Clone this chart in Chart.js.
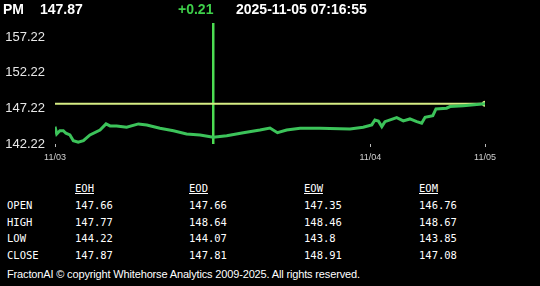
<!DOCTYPE html>
<html>
<head>
<meta charset="utf-8">
<script src="https://cdn.jsdelivr.net/npm/chart.js@4"></script>
<style>
  body { margin: 0; background: #000; width: 540px; height: 286px; overflow: hidden; position: relative; font-family: "Liberation Sans", Arial, sans-serif; color: #fff; }
  .hdr { position: absolute; top: 1px; font-size: 14px; font-weight: bold; line-height: 16px; }
  #chartBox { position: absolute; left: 0; top: 0; width: 540px; height: 170px; }
  .cell { position: absolute; font-family: "DejaVu Sans Mono", monospace; font-size: 10.5px; color: #fff; line-height: 12px; }
  .colHead { text-decoration: underline; }
  #footer { position: absolute; left: 7px; top: 268px; font-size: 11px; color: #fff; letter-spacing: -0.15px; }
</style>
</head>
<body>
<div id="chartBox"><canvas id="priceChart"></canvas></div>
<div class="hdr" style="left:3px" id="symbol"></div>
<div class="hdr" style="left:40px" id="lastPrice"></div>
<div class="hdr" style="left:178px;color:#3ecf4a" id="change"></div>
<div class="hdr" style="left:236px" id="stamp"></div>
<div id="table"></div>
<div id="footer">FractonAI © copyright Whitehorse Analytics 2009-2025. All rights reserved.</div>

<script>
// header values
const symbol = "PM"
const lastPrice = 147.87
const priceChange = "+0.21"
const timeStamp = "2025-11-05 07:16:55"

// price series (sample index, price)
const sampleIndex = [0,0.6,1.7,2.9,3.8,5.2,6.4,8.1,9.9,12.2,15.7,17.8,19.2,21.5,25,29.1,32,36.6,41.3,45.9,50.6,55.2,59.9,65.7,71.5,75,77.6,80.8,85.5,92.4,102.9,107.5,110.5,111.6,112.8,114,115.1,119.2,121.5,123.8,126.2,127.9,129.1,131.8,132.9,136.6,137.8,142.4,150]
const prices = [144.66,143.63,144.09,144.09,143.73,143.49,142.68,142.46,142.69,143.49,144.19,145.04,144.76,144.76,144.57,145.04,144.9,144.43,144.09,143.63,143.49,143.16,143.39,143.81,144.19,144.47,143.81,144.19,144.43,144.43,144.33,144.57,144.9,145.6,145.46,144.66,145.36,145.92,145.46,145.74,145.36,145.13,145.98,146.2,147.15,147.25,147.48,147.61,147.87]

// reference marker (index where the change is measured)
const markerIndex = 55.2

// axes
const yTicks = [142.22, 147.22, 152.22, 157.22]
const yMin = 142.22
const yMax = 159.22
const xTickIndex = [0, 110, 150]
const xTickLabels = ["11/03", "11/04", "11/05"]

// summary table
const tableCols = ["EOH", "EOD", "EOW", "EOM"]
const tableRows = ["OPEN", "HIGH", "LOW", "CLOSE"]
const openVals = ["147.66", "147.66", "147.35", "146.76"]
const highVals = ["147.77", "148.64", "148.46", "148.67"]
const lowVals = ["144.22", "144.07", "143.8", "143.85"]
const closeVals = ["147.87", "147.81", "148.91", "147.08"]

document.getElementById("symbol").textContent = symbol
document.getElementById("lastPrice").textContent = lastPrice.toFixed(2)
document.getElementById("change").textContent = priceChange
document.getElementById("stamp").textContent = timeStamp

const priceData = sampleIndex.map((x, i) => ({ x: x, y: prices[i] }))
const lastLine = [{ x: sampleIndex[0], y: lastPrice }, { x: sampleIndex[sampleIndex.length - 1], y: lastPrice }]
const markerLine = [{ x: markerIndex, y: yMin }, { x: markerIndex, y: yMax }]

new Chart(document.getElementById("priceChart"), {
    type: "line",
    data: {
        datasets: [
            {
                data: priceData,
                borderColor: "#3cc35a",
                borderWidth: 3,
                pointRadius: 0,
                tension: 0
            },
            {
                data: lastLine,
                borderColor: "#d6ec84",
                backgroundColor: "#d6ec84",
                borderWidth: 2,
                pointRadius: [0, 3],
                pointBorderWidth: 0
            },
            {
                data: markerLine,
                borderColor: "#4cdc52",
                borderWidth: 2.5,
                pointRadius: 0
            }
        ]
    },
    options: {
        responsive: true,
        maintainAspectRatio: false,
        animation: false,
        layout: { padding: { top: 23, right: 55 } },
        plugins: {
            legend: { display: false },
            tooltip: { enabled: false }
        },
        scales: {
            x: {
                type: "linear",
                min: 0,
                max: 150,
                afterBuildTicks: axis => { axis.ticks = xTickIndex.map(v => ({ value: v })) },
                afterFit: axis => { axis.height = 26 },
                border: { display: false },
                grid: { drawOnChartArea: false, color: "#bbbbbb", tickLength: 3 },
                ticks: {
                    color: "#d0d0d0",
                    font: { family: "Liberation Sans", size: 9 },
                    padding: 5,
                    maxRotation: 0,
                    callback: (v) => xTickLabels[xTickIndex.indexOf(v)]
                }
            },
            y: {
                min: yMin,
                max: yMax,
                afterBuildTicks: axis => { axis.ticks = yTicks.map(v => ({ value: v })) },
                afterFit: axis => { axis.width = 55 },
                border: { display: false },
                grid: { display: false, drawTicks: false },
                ticks: {
                    color: "#e8e8e8",
                    font: { family: "Liberation Sans", size: 13 },
                    padding: 10,
                    callback: (v) => v.toFixed(2)
                }
            }
        }
    }
})

// build the OHLC table
const table = document.getElementById("table")
const colX = [75, 189, 304, 419]
const rowY = [199, 216, 232, 249]
const rowVals = [openVals, highVals, lowVals, closeVals]

function addCell(text, x, y, cls) {
    const d = document.createElement("div")
    d.className = "cell" + (cls ? " " + cls : "")
    d.style.left = x + "px"
    d.style.top = y + "px"
    d.textContent = text
    table.appendChild(d)
}

for (let c = 0; c < tableCols.length; c++) {
    addCell(tableCols[c], colX[c], 182, "colHead")
}
for (let r = 0; r < tableRows.length; r++) {
    addCell(tableRows[r], 7, rowY[r])
    for (let c = 0; c < tableCols.length; c++) {
        addCell(rowVals[r][c], colX[c], rowY[r])
    }
}
</script>
</body>
</html>
